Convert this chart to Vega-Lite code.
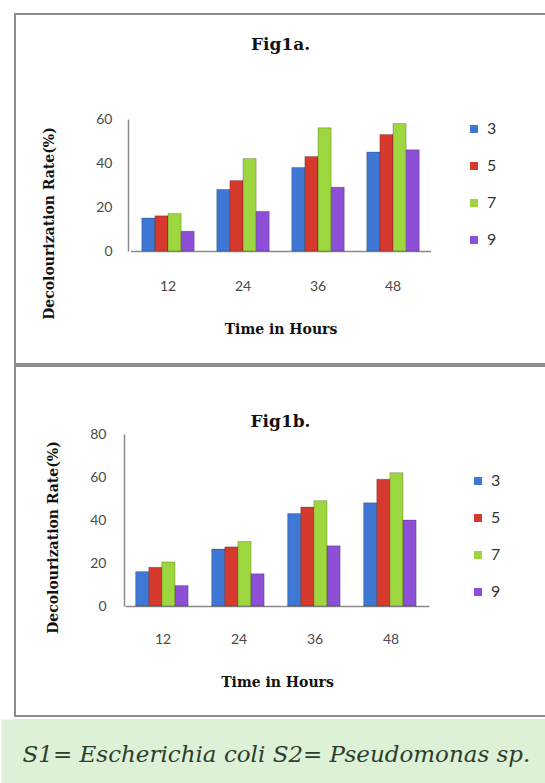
{
  "$schema": "https://vega.github.io/schema/vega-lite/v6.json",
  "background": "white",
  "padding": {"left": 14, "top": 13, "right": 0, "bottom": 0},
  "datasets": {
    "rates": [
      {"fig": "a", "time": "12", "ph": "3", "rate": 15},
      {"fig": "a", "time": "12", "ph": "5", "rate": 16},
      {"fig": "a", "time": "12", "ph": "7", "rate": 17},
      {"fig": "a", "time": "12", "ph": "9", "rate": 9},
      {"fig": "a", "time": "24", "ph": "3", "rate": 28},
      {"fig": "a", "time": "24", "ph": "5", "rate": 32},
      {"fig": "a", "time": "24", "ph": "7", "rate": 42},
      {"fig": "a", "time": "24", "ph": "9", "rate": 18},
      {"fig": "a", "time": "36", "ph": "3", "rate": 38},
      {"fig": "a", "time": "36", "ph": "5", "rate": 43},
      {"fig": "a", "time": "36", "ph": "7", "rate": 56},
      {"fig": "a", "time": "36", "ph": "9", "rate": 29},
      {"fig": "a", "time": "48", "ph": "3", "rate": 45},
      {"fig": "a", "time": "48", "ph": "5", "rate": 53},
      {"fig": "a", "time": "48", "ph": "7", "rate": 58},
      {"fig": "a", "time": "48", "ph": "9", "rate": 46},
      {"fig": "b", "time": "12", "ph": "3", "rate": 16},
      {"fig": "b", "time": "12", "ph": "5", "rate": 18},
      {"fig": "b", "time": "12", "ph": "7", "rate": 20.5},
      {"fig": "b", "time": "12", "ph": "9", "rate": 9.5},
      {"fig": "b", "time": "24", "ph": "3", "rate": 26.5},
      {"fig": "b", "time": "24", "ph": "5", "rate": 27.5},
      {"fig": "b", "time": "24", "ph": "7", "rate": 30},
      {"fig": "b", "time": "24", "ph": "9", "rate": 15},
      {"fig": "b", "time": "36", "ph": "3", "rate": 43},
      {"fig": "b", "time": "36", "ph": "5", "rate": 46},
      {"fig": "b", "time": "36", "ph": "7", "rate": 49},
      {"fig": "b", "time": "36", "ph": "9", "rate": 28},
      {"fig": "b", "time": "48", "ph": "3", "rate": 48},
      {"fig": "b", "time": "48", "ph": "5", "rate": 59},
      {"fig": "b", "time": "48", "ph": "7", "rate": 62},
      {"fig": "b", "time": "48", "ph": "9", "rate": 40}
    ],
    "caption": [
      {"text": "S1= Escherichia coli S2= Pseudomonas sp.", "x": 0.5, "y": 0.5}
    ]
  },
  "config": {
    "view": {"stroke": "#8c8c8c", "strokeWidth": 2},
    "axis": {"grid": false, "ticks": false, "domainColor": "#8a8a8a", "domainWidth": 1.5, "labelFont": "Lato", "labelFontSize": 14, "labelColor": "#4a4a4a", "titleFont": "DejaVu Serif", "titleFontWeight": "bold", "titleFontSize": 14, "titleColor": "#111"},
    "legend": {"symbolType": "square", "symbolSize": 64, "labelFont": "Lato", "labelFontSize": 16, "labelColor": "#333", "rowPadding": 21, "labelOffset": 5, "symbolStrokeWidth": 0},
    "title": {"font": "DejaVu Serif", "fontWeight": "bold", "fontSize": 17, "color": "#111", "frame": "group"}
  },
  "vconcat": [
    {
      "spacing": 0,
      "resolve": {"legend": {"color": "independent"}},
      "vconcat": [
        {
          "width": 531,
          "height": 350,
          "title": {"text": "Fig1a.", "offset": -53, "baseline": "alphabetic"},
          "data": {"name": "rates"},
          "transform": [{"filter": "datum.fig === 'a'"}],
          "mark": {"type": "bar", "stroke": "#000", "strokeOpacity": 0.22, "strokeWidth": 1},
          "encoding": {
            "x": {"field": "time", "type": "nominal", "sort": ["12", "24", "36", "48"], "scale": {"range": [115.5, 415.5], "paddingInner": 0.3, "paddingOuter": 0.15}, "axis": {"title": "Time in Hours", "labelAngle": 0, "offset": -113, "labelPadding": 28, "titleY": 78, "titleBaseline": "middle"}},
            "xOffset": {"field": "ph", "type": "nominal", "sort": ["3", "5", "7", "9"]},
            "y": {"field": "rate", "type": "quantitative", "scale": {"domain": [0, 60], "range": [237, 105], "nice": false}, "axis": {"title": "Decolourization Rate(%)", "values": [0, 20, 40, 60], "offset": -113, "labelPadding": 16, "titleX": -79, "titleY": 209, "titleBaseline": "middle"}},
            "color": {"field": "ph", "type": "nominal", "sort": ["3", "5", "7", "9"], "scale": {"domain": ["3", "5", "7", "9"], "range": ["#3f78d4", "#d63a2f", "#9ed63f", "#8c4fd6"]}, "legend": {"title": null, "orient": "none", "legendX": 451, "legendY": 107}}
          }
        },
        {
          "width": 531,
          "height": 350,
          "title": {"text": "Fig1b.", "offset": -78, "baseline": "alphabetic"},
          "data": {"name": "rates"},
          "transform": [{"filter": "datum.fig === 'b'"}],
          "mark": {"type": "bar", "stroke": "#000", "strokeOpacity": 0.22, "strokeWidth": 1},
          "encoding": {
            "x": {"field": "time", "type": "nominal", "sort": ["12", "24", "36", "48"], "scale": {"range": [110, 414], "paddingInner": 0.28, "paddingOuter": 0.14}, "axis": {"title": "Time in Hours", "labelAngle": 0, "offset": -110, "labelPadding": 26, "titleY": 76, "titleBaseline": "middle"}},
            "xOffset": {"field": "ph", "type": "nominal", "sort": ["3", "5", "7", "9"]},
            "y": {"field": "rate", "type": "quantitative", "scale": {"domain": [0, 80], "range": [240, 68], "nice": false}, "axis": {"title": "Decolourization Rate(%)", "values": [0, 20, 40, 60, 80], "offset": -109, "labelPadding": 18, "titleX": -71, "titleY": 171, "titleBaseline": "middle"}},
            "color": {"field": "ph", "type": "nominal", "sort": ["3", "5", "7", "9"], "scale": {"domain": ["3", "5", "7", "9"], "range": ["#3f78d4", "#d63a2f", "#9ed63f", "#8c4fd6"]}, "legend": {"title": null, "orient": "none", "legendX": 455, "legendY": 107}}
          }
        }
      ]
    },
    {
      "width": 531,
      "height": 64,
      "view": {"fill": "#dcf1d6", "stroke": null},
      "data": {"name": "caption"},
      "mark": {"type": "text", "font": "DejaVu Serif", "fontStyle": "italic", "fontSize": 23, "color": "#2e3d2e", "dx": -4, "dy": 4},
      "encoding": {
        "text": {"field": "text", "type": "nominal"},
        "x": {"field": "x", "type": "quantitative", "scale": {"domain": [0, 1]}, "axis": null},
        "y": {"field": "y", "type": "quantitative", "scale": {"domain": [0, 1]}, "axis": {"domainColor": "#dcf1d6", "domainWidth": 28, "ticks": false, "labels": false, "title": null, "grid": false}}
      }
    }
  ],
  "spacing": 2
}
